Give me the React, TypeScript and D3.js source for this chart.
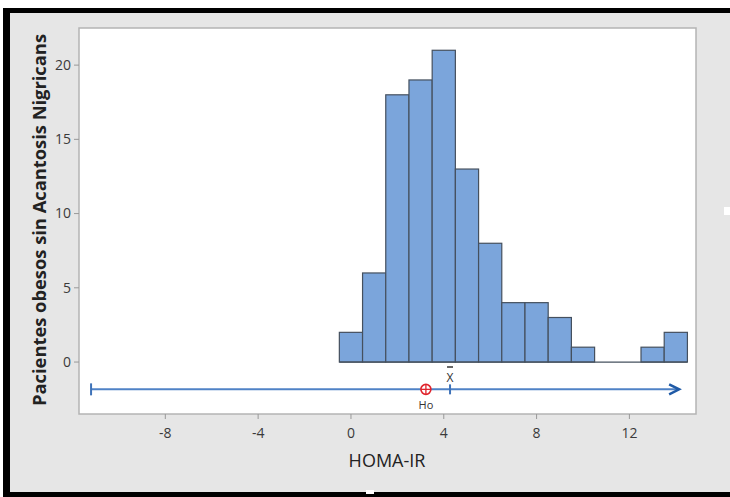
import React from "react";
import { scaleLinear } from "d3";

// histogram values
const binCenters = [0, 1, 2, 3, 4, 5, 6, 7, 8, 9, 10, 11, 12, 13, 14];
const counts = [2, 6, 18, 19, 21, 13, 8, 4, 4, 3, 1, 0, 0, 1, 2];
const binWidth = 1;
const xTicks = [-8, -4, 0, 4, 8, 12];
const yTicks = [0, 5, 10, 15, 20];
// interval plot below the bars
const intervalLow = -11.2;
const intervalHigh = 14.1;
const sampleMean = 4.27;
const hypothesized = 3.23;
const intervalY = -1.84;

function App() {
  const width = 730;
  const height = 497;
  const plot = { left: 79, top: 28, right: 696, bottom: 414 };

  const xScale = scaleLinear().domain([-11.72, 14.87]).range([plot.left, plot.right]);
  const yScale = scaleLinear().domain([-3.5, 22.5]).range([plot.bottom, plot.top]);

  const iy = yScale(intervalY);
  const meanX = xScale(sampleMean);
  const h0X = xScale(hypothesized);
  const endX = xScale(intervalHigh);

  return (
    <svg
      width={width}
      height={height}
      style={{ position: "absolute", left: 0, top: 0 }}
      fontFamily="'Open Sans', sans-serif"
    >
      <rect x={0} y={0} width={width} height={height} fill="#fff" />
      {/* grey frame and black border */}
      <rect x={3} y={8} width={width} height={489} fill="#e6e6e6" />
      <rect x={3} y={8} width={7} height={489} fill="#000" />
      <rect x={3} y={8} width={width} height={5} fill="#000" />
      <rect x={3} y={492} width={width} height={5} fill="#000" />
      <rect x={724} y={207} width={6} height={8} fill="#fff" />
      <rect x={366} y={490} width={8} height={4} fill="#fff" />

      {/* plot area */}
      <rect
        x={plot.left}
        y={plot.top}
        width={plot.right - plot.left}
        height={plot.bottom - plot.top}
        fill="#fff"
        stroke="#b4b4b4"
        strokeWidth={1.5}
      />

      {/* y axis */}
      {yTicks.map((d) => (
        <g key={d} transform={`translate(0,${yScale(d)})`}>
          <line x1={plot.left - 5} x2={plot.left} stroke="#999" />
          <text x={plot.left - 8} dy="0.35em" textAnchor="end" fontSize={14} fill="#3a3a3a">
            {d}
          </text>
        </g>
      ))}
      <text
        transform={`translate(46,220) rotate(-90)`}
        textAnchor="middle"
        fontSize={17}
        fontWeight="bold"
        fill="#222"
        textLength={372}
        lengthAdjust="spacingAndGlyphs"
      >
        Pacientes obesos sin Acantosis Nigricans
      </text>

      {/* x axis */}
      {xTicks.map((d) => (
        <g key={d} transform={`translate(${xScale(d)},0)`}>
          <line y1={plot.bottom} y2={plot.bottom + 5} stroke="#999" />
          <text y={plot.bottom + 24} textAnchor="middle" fontSize={14} fill="#3a3a3a">
            {d}
          </text>
        </g>
      ))}
      <text x={387} y={467} textAnchor="middle" fontSize={18} fill="#222">
        HOMA-IR
      </text>

      {/* bars */}
      <g>
        {binCenters.map((c, i) =>
          counts[i] > 0 ? (
            <rect
              key={c}
              x={xScale(c - binWidth / 2)}
              y={yScale(counts[i])}
              width={xScale(c + binWidth / 2) - xScale(c - binWidth / 2)}
              height={yScale(0) - yScale(counts[i])}
              fill="#7ba5db"
              stroke="#45505e"
              strokeWidth={1.2}
            />
          ) : null
        )}
        <line
          x1={xScale(-0.5)}
          x2={xScale(14.5)}
          y1={yScale(0)}
          y2={yScale(0)}
          stroke="#45505e"
          strokeWidth={1.2}
        />
      </g>

      {/* interval line */}
      <g>
        <line x1={xScale(intervalLow)} x2={endX} y1={iy} y2={iy} stroke="#4f82c6" strokeWidth={2} />
        <line
          x1={xScale(intervalLow)}
          x2={xScale(intervalLow)}
          y1={iy - 6}
          y2={iy + 6}
          stroke="#3e72b8"
          strokeWidth={2}
        />
        <path
          d={`M${endX - 9},${iy - 5} L${endX + 1},${iy} L${endX - 9},${iy + 5}`}
          fill="none"
          stroke="#1f5aa6"
          strokeWidth={2.5}
        />
        <line x1={meanX} x2={meanX} y1={iy - 5} y2={iy + 5} stroke="#3e72b8" strokeWidth={2} />
        <line x1={meanX - 3} x2={meanX + 3} y1={367} y2={367} stroke="#333" strokeWidth={1.5} />
        <text x={meanX} y={382} textAnchor="middle" fontSize={12} fill="#333">
          X
        </text>
        <circle cx={h0X} cy={iy} r={5} fill="#fff" stroke="#e0242c" strokeWidth={1.6} />
        <line x1={h0X - 5} x2={h0X + 5} y1={iy} y2={iy} stroke="#e0242c" strokeWidth={1.3} />
        <line x1={h0X} x2={h0X} y1={iy - 5} y2={iy + 5} stroke="#e0242c" strokeWidth={1.3} />
        <text x={h0X} y={409} textAnchor="middle" fontSize={11} fill="#333">
          Ho
        </text>
      </g>
    </svg>
  );
}

export default App;
